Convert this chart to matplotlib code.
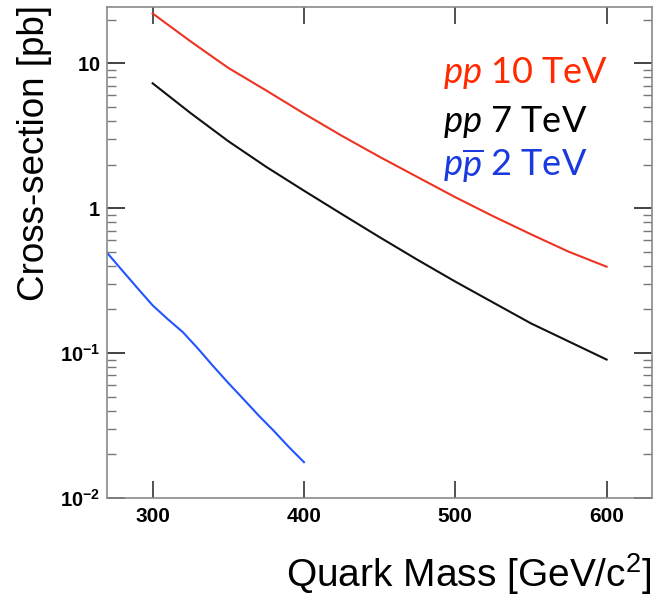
import numpy as np
import matplotlib
matplotlib.use('Agg')
import matplotlib.pyplot as plt
from matplotlib.ticker import FixedLocator, LogLocator, NullFormatter

# 数据
mass_10 = [300, 325, 350, 375, 400, 425, 450, 475, 500, 525, 550, 575, 600]
xsec_10 = [22.1, 14.2, 9.3, 6.5, 4.5, 3.16, 2.26, 1.64, 1.19, 0.88, 0.66, 0.50, 0.394]

mass_7 = [300, 325, 350, 375, 400, 425, 450, 475, 500, 525, 550, 575, 600]
xsec_7 = [7.28, 4.54, 2.9, 1.93, 1.32, 0.91, 0.63, 0.44, 0.311, 0.223, 0.16, 0.12, 0.090]

mass_2 = [270, 280, 290, 300, 310, 320, 330, 340, 350, 360, 370, 380, 390, 400]
xsec_2 = [0.49, 0.37, 0.28, 0.213, 0.171, 0.139, 0.107, 0.081, 0.062, 0.048,
          0.037, 0.029, 0.0224, 0.0176]

x_ticks = [300, 400, 500, 600]
y_ticks = [0.01, 0.1, 1, 10]
y_tick_labels = [r'$\mathbf{10^{-2}}$', r'$\mathbf{10^{-1}}$', r'$\mathbf{1}$', r'$\mathbf{10}$']

plt.rcParams['mathtext.fontset'] = 'custom'
plt.rcParams['mathtext.rm'] = 'Liberation Sans'
plt.rcParams['mathtext.bf'] = 'Liberation Sans:bold'
plt.rcParams['mathtext.it'] = 'Lato:italic'

fig = plt.figure(figsize=(6.63, 5.96), dpi=100)
ax = fig.add_axes([0.1618, 0.1649, 0.8216, 0.8229])

red_line, blk_line, blue_line = '#ee3322', '#111111', '#2255ff'
ax.plot(mass_10, xsec_10, color=red_line, lw=1.5)
ax.plot(mass_7, xsec_7, color=blk_line, lw=1.5)
ax.plot(mass_2, xsec_2, color=blue_line, lw=1.5)

ax.set_yscale('log')
ax.set_xlim(270, 630)
ax.set_ylim(0.01, 24.4)

# 坐标轴样式 (ROOT风格)
for s in ax.spines.values():
    s.set_color('#8a8a8a')
    s.set_linewidth(1.2)

ax.xaxis.set_major_locator(FixedLocator(x_ticks))
ax.xaxis.set_minor_locator(FixedLocator([]))
ax.set_xticklabels([str(v) for v in x_ticks], fontfamily='Liberation Sans',
                   fontweight='bold', fontsize=15)
ax.yaxis.set_major_locator(FixedLocator(y_ticks))
ax.yaxis.set_minor_locator(LogLocator(base=10, subs=np.arange(2, 10)))
ax.yaxis.set_minor_formatter(NullFormatter())
ax.set_yticklabels(y_tick_labels, fontsize=14.5)

ax.tick_params(which='both', direction='in', top=True, right=True)
ax.tick_params(axis='x', which='major', length=12, width=1.2, color='#333333', pad=7)
ax.tick_params(axis='y', which='major', length=13, width=1.2, color='#222222', pad=5)
ax.tick_params(axis='y', which='minor', length=6.5, width=1.0, color='#777777')

ax.set_xlabel('Quark Mass [GeV/c$^2$]', fontfamily='Liberation Sans', fontsize=28, loc='right')
ax.xaxis.set_label_coords(1.0, -0.11)
ax.set_ylabel('Cross-section [pb]', fontfamily='Liberation Sans', fontsize=26.5, loc='top')
ax.yaxis.set_label_coords(-0.101, 1.005)

# 图例文字
ax.text(0.616, 0.845, r'$pp$ 10 TeV', transform=ax.transAxes, color='#ff2a00',
        fontfamily='Lato', fontsize=26)
ax.text(0.616, 0.746, r'$pp$ 7 TeV', transform=ax.transAxes, color='#000000',
        fontfamily='Lato', fontsize=26)
ax.text(0.616, 0.6555, r'$p\overline{p}$ 2 TeV', transform=ax.transAxes, color='#1a3ae0',
        fontfamily='Lato', fontsize=26)

fig.savefig('out.png', dpi=100)
